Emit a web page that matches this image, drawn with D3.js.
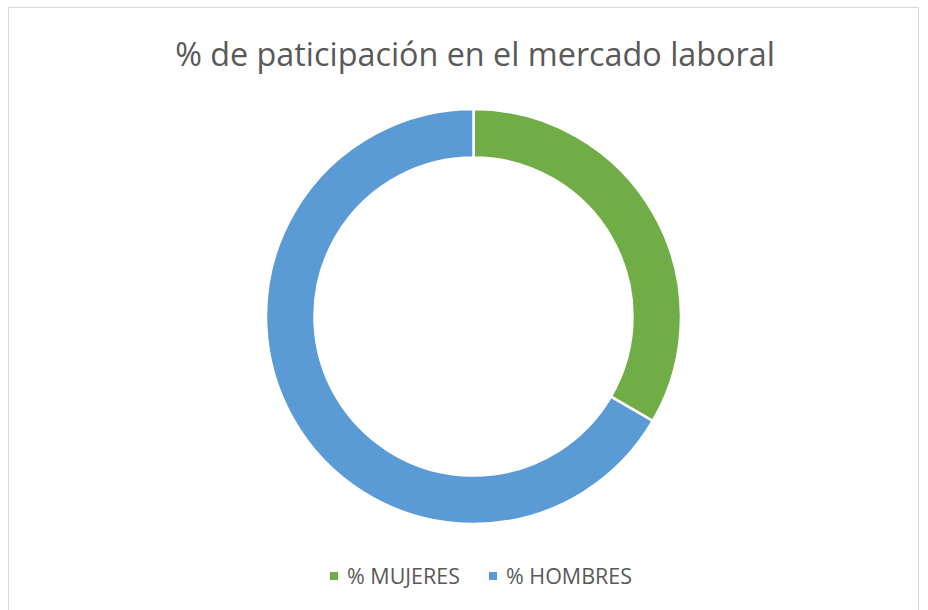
<!DOCTYPE html>
<html>
<head>
<meta charset="utf-8">
<script src="https://cdn.jsdelivr.net/npm/d3@7"></script>
<style>
  body { margin: 0; background: #fff; }
  svg { display: block; }
  text { font-family: "Open Sans", "Liberation Sans", sans-serif; fill: #595959; }
</style>
</head>
<body>
<svg width="928" height="610"></svg>
<script>
var titulo = "% de paticipación en el mercado laboral";
var categorias = ["% MUJERES", "% HOMBRES"];
var valores = [33.4, 66.6];
var colores = ["#70ad47", "#5b9bd5"];

var svg = d3.select("svg");

// chart frame
svg.append("rect")
    .attr("x", 8.5).attr("y", 7.5)
    .attr("width", 910).attr("height", 620)
    .attr("fill", "none")
    .attr("stroke", "#d9d9d9");

var t = svg.append("text")
    .attr("x", 475).attr("y", 66)
    .attr("text-anchor", "middle")
    .style("font-size", "28px")
    .text(titulo);
// fit title to the width seen in the picture (~600px)
var w = t.node().getComputedTextLength();
t.style("font-size", (28 * 600 / w) + "px");

var cx = 473.5, cy = 316.5;
var pie = d3.pie().sort(null).value(function(d) { return d; });
var arc = d3.arc().innerRadius(159).outerRadius(207.5);

var g = svg.append("g").attr("transform", "translate(" + cx + "," + cy + ")");
g.selectAll("path")
    .data(pie(valores))
    .enter().append("path")
    .attr("d", arc)
    .attr("fill", function(d, i) { return colores[i]; })
    .attr("stroke", "#fff")
    .attr("stroke-width", 2.5)
    .attr("stroke-linejoin", "miter");

// legend
var color = d3.scaleOrdinal().domain(categorias).range(colores);
var legX = [330, 489];
var leg = svg.selectAll(".leg")
    .data(categorias)
    .enter().append("g")
    .attr("class", "leg")
    .attr("transform", function(d, i) { return "translate(" + legX[i] + ",572)"; });
leg.append("rect")
    .attr("width", 8).attr("height", 8)
    .attr("fill", function(d) { return color(d); });
var lt = leg.append("text")
    .attr("x", 17).attr("y", 12)
    .style("font-size", "16px")
    .text(function(d) { return d; });
// "% MUJERES" is about 113px wide in the picture
var lw = lt.node().getComputedTextLength();
lt.style("font-size", (16 * 113 / lw) + "px");
</script>
</body>
</html>
